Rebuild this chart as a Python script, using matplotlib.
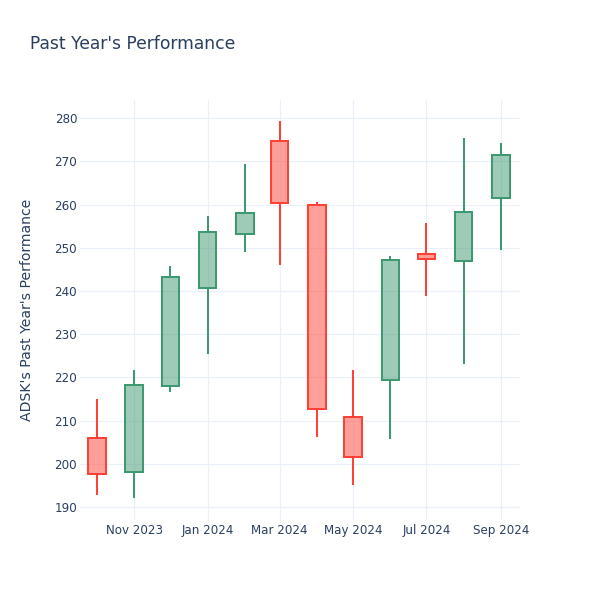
import numpy as np
import pandas as pd
import matplotlib
matplotlib.use("Agg")
import matplotlib.pyplot as plt
import matplotlib.dates as mdates

# monthly OHLC
months = ['2023-10-01', '2023-11-01', '2023-12-01', '2024-01-01', '2024-02-01', '2024-03-01',
          '2024-04-01', '2024-05-01', '2024-06-01', '2024-07-01', '2024-08-01', '2024-09-01']
open_ = [205.9, 198.0, 218.1, 240.6, 253.3, 274.8, 259.8, 210.9, 219.4, 248.5, 246.9, 261.5]
high = [215.1, 221.8, 245.8, 257.4, 269.3, 279.3, 260.5, 221.8, 248.1, 255.8, 275.4, 274.3]
low = [192.8, 192.0, 216.7, 225.4, 249.1, 246.1, 206.1, 195.2, 205.7, 238.9, 223.0, 249.5]
close = [197.6, 218.2, 243.3, 253.6, 258.0, 260.4, 212.7, 201.5, 247.2, 247.4, 258.2, 271.4]

dates = pd.to_datetime(months)
x = mdates.date2num(dates)
o = np.array(open_)
h = np.array(high)
l = np.array(low)
c = np.array(close)

up_line, up_fill = '#3D9970', (61/255, 153/255, 112/255, 0.5)
dn_line, dn_fill = '#FF4136', (1.0, 65/255, 54/255, 0.5)
text_col = '#2a3f5f'

fig = plt.figure(figsize=(6, 6), dpi=100)
ax = fig.add_axes([80/600, 80/600, 440/600, 420/600])

w = 14.5
for xi, oi, hi, li, ci in zip(x, o, h, l, c):
    up = ci >= oi
    lc = up_line if up else dn_line
    fc = up_fill if up else dn_fill
    top, bot = max(oi, ci), min(oi, ci)
    ax.vlines(xi, top, hi, color=lc, lw=1.44, zorder=2)
    ax.vlines(xi, li, bot, color=lc, lw=1.44, zorder=2)
    ax.bar(xi, top - bot, bottom=bot, width=w, color=fc, edgecolor=lc,
           linewidth=1.44, zorder=3)

ax.set_xlim(mdates.date2num(pd.Timestamp('2023-09-17')),
            mdates.date2num(pd.Timestamp('2024-09-16 18:00')))
ax.set_ylim(187.0, 284.2)
ax.set_yticks(np.arange(190, 281, 10))
ax.xaxis.set_major_locator(mdates.MonthLocator(bymonth=[1, 3, 5, 7, 9, 11]))
ax.xaxis.set_major_formatter(mdates.DateFormatter('%b %Y'))

ax.grid(True, color='#EBF0F8', lw=0.9, zorder=0)
ax.set_axisbelow(True)
for s in ax.spines.values():
    s.set_visible(False)
ax.tick_params(length=0, labelsize=8.6, labelcolor=text_col)
ax.tick_params(axis='y', pad=2)
ax.tick_params(axis='x', pad=3)

fig.text(30/600, 1 - 44/600, "Past Year's Performance", fontsize=12.3,
         color=text_col, va='center', ha='left')
fig.text(27/600, 1 - 310/600, "ADSK's Past Year's Performance", fontsize=10.1,
         color=text_col, va='center', ha='center', rotation=90)

fig.savefig('out.png', dpi=100)
